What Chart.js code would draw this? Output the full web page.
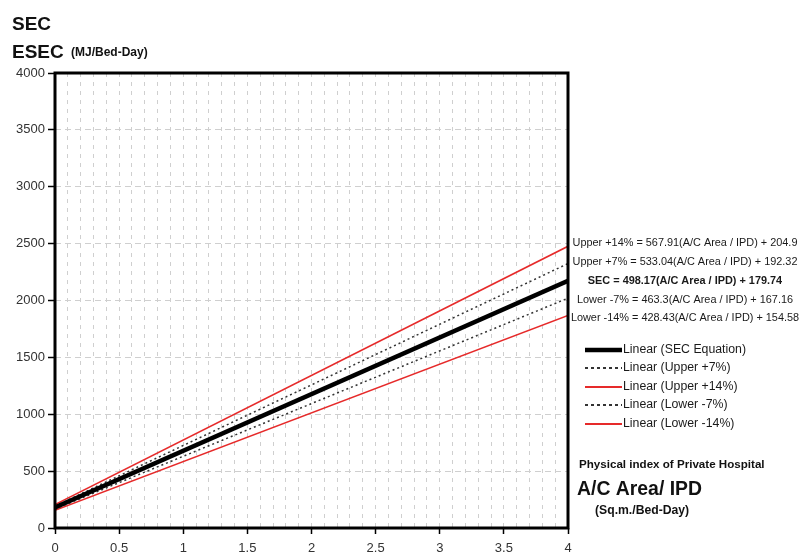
<!DOCTYPE html>
<html>
<head>
<meta charset="utf-8">
<script src="https://cdn.jsdelivr.net/npm/chart.js@4"></script>
<style>
  body { margin: 0; background: #fff; }
  #wrap { width: 802px; height: 552px; position: relative; }
</style>
</head>
<body>
<div id="wrap"><canvas id="myChart"></canvas></div>
<script>
// Données
const xPoints = [0, 4];
const secLine = [179.74, 2172.42];
const upper7Line = [192.32, 2324.48];
const upper14Line = [204.9, 2476.54];
const lower7Line = [167.16, 2020.36];
const lower14Line = [154.58, 1868.30];

const seriesLabels = ['Linear (SEC Equation)', 'Linear (Upper +7%)', 'Linear (Upper +14%)', 'Linear (Lower -7%)', 'Linear (Lower -14%)'];
const equationLabels = [
    'Upper +14% = 567.91(A/C Area / IPD) + 204.9',
    'Upper +7% = 533.04(A/C Area / IPD) + 192.32',
    'SEC = 498.17(A/C Area / IPD) + 179.74',
    'Lower -7% = 463.3(A/C Area / IPD) + 167.16',
    'Lower -14% = 428.43(A/C Area / IPD) + 154.58'
];
const yTicks = [0, 500, 1000, 1500, 2000, 2500, 3000, 3500, 4000];

const FONT = '"Liberation Sans", Arial, sans-serif';
const RED = '#e62a2a';

function toPoints(ys) {
    return xPoints.map((x, i) => ({ x: x, y: ys[i] }));
}

const datasets = [
    { label: seriesLabels[0], data: toPoints(secLine), borderColor: '#000', borderWidth: 4.5 },
    { label: seriesLabels[1], data: toPoints(upper7Line), borderColor: '#333', borderWidth: 1.5, borderDash: [2, 3] },
    { label: seriesLabels[2], data: toPoints(upper14Line), borderColor: RED, borderWidth: 1.5 },
    { label: seriesLabels[3], data: toPoints(lower7Line), borderColor: '#333', borderWidth: 1.5, borderDash: [2, 3] },
    { label: seriesLabels[4], data: toPoints(lower14Line), borderColor: RED, borderWidth: 1.5 }
];
datasets.forEach(d => { d.showLine = true; d.pointRadius = 0; d.fill = false; });

function isMajor(v) {
    return Math.abs(v * 2 - Math.round(v * 2)) < 1e-6;
}

// Textes et cadre dessinés à la main
const decorPlugin = {
    id: 'decor',
    afterDraw(chart) {
        const ctx = chart.ctx;
        const a = chart.chartArea;
        const y = chart.scales.y;
        ctx.save();

        // cadre
        ctx.strokeStyle = '#000';
        ctx.lineWidth = 3;
        ctx.strokeRect(a.left, a.top, a.right - a.left, a.bottom - a.top);

        // titres
        ctx.fillStyle = '#111';
        ctx.textBaseline = 'alphabetic';
        ctx.textAlign = 'left';
        ctx.font = 'bold 19px ' + FONT;
        ctx.fillText('SEC', 12, 30);
        ctx.fillText('ESEC', 12, 58);
        ctx.font = 'bold 12px ' + FONT;
        ctx.fillText('(MJ/Bed-Day)', 71, 56);

        // équations
        const ySec = y.getPixelForValue(secLine[1]);
        ctx.textAlign = 'center';
        ctx.textBaseline = 'middle';
        equationLabels.forEach((t, i) => {
            ctx.font = (i === 2 ? 'bold ' : '') + '10.9px ' + FONT;
            ctx.fillStyle = '#1a1a1a';
            ctx.fillText(t, 685, ySec + (i - 2) * 18.8);
        });

        // légende
        const legY = [350, 368, 387, 405, 424];
        ctx.textAlign = 'left';
        ctx.font = '12.3px ' + FONT;
        chart.data.datasets.forEach((ds, i) => {
            ctx.beginPath();
            ctx.strokeStyle = ds.borderColor;
            ctx.lineWidth = i === 0 ? 4.5 : 2;
            ctx.setLineDash(ds.borderDash ? [3, 3] : []);
            ctx.moveTo(585, legY[i]);
            ctx.lineTo(622, legY[i]);
            ctx.stroke();
            ctx.setLineDash([]);
            ctx.fillStyle = '#1a1a1a';
            ctx.fillText(ds.label, 623, legY[i]);
        });

        // titre de l'axe x
        ctx.fillStyle = '#111';
        ctx.font = 'bold 11.6px ' + FONT;
        ctx.fillText('Physical index of Private Hospital', 579, 465);
        ctx.font = 'bold 19.4px ' + FONT;
        ctx.fillText('A/C Area/ IPD', 577, 490);
        ctx.font = 'bold 12.2px ' + FONT;
        ctx.fillText('(Sq.m./Bed-Day)', 595, 511);

        ctx.restore();
    }
};

const ctx = document.getElementById('myChart').getContext('2d');
new Chart(ctx, {
    type: 'scatter',
    data: { datasets: datasets },
    options: {
        responsive: true,
        maintainAspectRatio: false,
        animation: false,
        layout: { padding: { left: 0, top: 73, right: 234, bottom: 0 } },
        plugins: {
            legend: { display: false },
            tooltip: { enabled: false }
        },
        scales: {
            x: {
                type: 'linear',
                min: 0,
                max: 4,
                afterFit: s => { s.height = 24; },
                ticks: {
                    stepSize: 0.1,
                    autoSkip: false,
                    maxRotation: 0,
                    padding: 7,
                    color: '#333',
                    font: { family: FONT, size: 13 },
                    callback: v => isMajor(v) ? String(Math.round(v * 10) / 10) : ''
                },
                grid: {
                    color: '#cfcfcf',
                    lineWidth: 1,
                    tickLength: 6,
                    tickBorderDash: [],
                    tickColor: c => (c.tick && isMajor(c.tick.value)) ? '#000' : 'rgba(0,0,0,0)',
                    tickWidth: 1.5
                },
                border: { display: false, dash: [4, 5] }
            },
            y: {
                min: 0,
                max: 4000,
                afterFit: s => { s.width = 55; },
                afterBuildTicks: s => { s.ticks = yTicks.map(v => ({ value: v })); },
                ticks: {
                    padding: 3,
                    color: '#333',
                    font: { family: FONT, size: 13 },
                    callback: v => String(v)
                },
                grid: {
                    color: '#cfcfcf',
                    lineWidth: 1,
                    tickLength: 7,
                    tickBorderDash: [],
                    tickColor: '#000',
                    tickWidth: 1.5
                },
                border: { display: false, dash: [6, 4] }
            }
        }
    },
    plugins: [decorPlugin]
});
</script>
</body>
</html>
